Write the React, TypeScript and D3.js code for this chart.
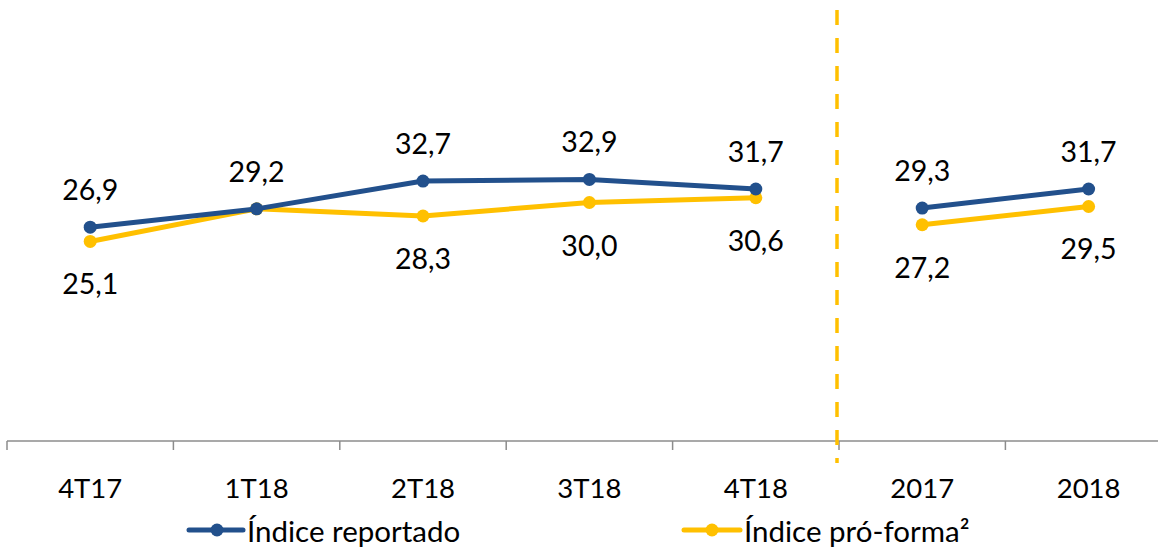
import React from 'react';
import * as d3 from 'd3';

const categories = ['4T17', '1T18', '2T18', '3T18', '4T18', '2017', '2018'];
const reportado = [26.9, 29.2, 32.7, 32.9, 31.7, 29.3, 31.7];
const proForma = [25.1, 29.2, 28.3, 30.0, 30.6, 27.2, 29.5];
// which points get a label (1T18 pro-forma label hides under the other one)
const proFormaShowLabel = [true, false, true, true, true, true, true];
// segments: quarters, then years
const groups = [[0, 1, 2, 3, 4], [5, 6]];

const BLUE = '#22508C';
const YELLOW = '#FFC000';
const FONT = 'Lato, "Open Sans", sans-serif';

export default function App() {
  const width = 1158, height = 547;
  const axisY = 441;
  const band = 166.4;

  const x = d3.scaleBand<string>()
    .domain(categories)
    .range([7, 7 + band * categories.length])
    .padding(0);

  const y = d3.scaleLinear().domain([0, 55]).range([axisY, axisY - 55 * 7.95]);

  const cx = (i: number) => (x(categories[i]) as number) + x.bandwidth() / 2;

  const fmt = (v: number) => v.toFixed(1).replace('.', ',');

  const series = [
    { values: reportado, color: BLUE, dy: -38, show: categories.map(() => true) },
    { values: proForma, color: YELLOW, dy: 42, show: proFormaShowLabel },
  ];

  const divider = (x(categories[5]) as number) - 2;

  return (
    <svg width={width} height={height} style={{ position: 'absolute', left: 0, top: 0, background: '#fff' }}
      fontFamily={FONT}>
      {/* x axis */}
      <line x1={7} x2={width} y1={axisY} y2={axisY} stroke="#8c8c8c" strokeWidth={1.5} />
      {categories.map((c) => (
        <line key={'t' + c} x1={x(c)} x2={x(c)} y1={axisY} y2={axisY + 9} stroke="#8c8c8c" strokeWidth={1.5} />
      ))}
      {categories.map((c, i) => (
        <text key={'l' + c} x={cx(i)} y={487} textAnchor="middle" dominantBaseline="central"
          fontSize={27.5} fill="#000">{c}</text>
      ))}

      {/* divider between quarters and years */}
      <line x1={divider} x2={divider} y1={10} y2={463} stroke={YELLOW} strokeWidth={3.5}
        strokeDasharray="15,13" />

      {/* lines */}
      {series.slice().reverse().map((s, si) => (
        <g key={'s' + si}>
          {groups.map((g, gi) => {
            const path = d3.line<number>().x(i => cx(i)).y(i => y(s.values[i]))(g);
            return <path key={gi} d={path || ''} fill="none" stroke={s.color} strokeWidth={5} strokeLinejoin="round" />;
          })}
          {s.values.map((v, i) => (
            <circle key={i} cx={cx(i)} cy={y(v)} r={6.5} fill={s.color} />
          ))}
        </g>
      ))}

      {/* data labels */}
      {series.map((s, si) => s.values.map((v, i) => s.show[i] ? (
        <text key={si + '-' + i} x={cx(i)} y={y(v) + s.dy} textAnchor="middle" dominantBaseline="central"
          fontSize={28.5} fill="#000">{fmt(v)}</text>
      ) : null))}

      {/* legend */}
      <g transform="translate(189,530)">
        <line x1={0} x2={54} stroke={BLUE} strokeWidth={5} strokeLinecap="round" />
        <circle cx={28} cy={0} r={6.5} fill={BLUE} />
        <text x={58} y={0} dominantBaseline="central" fontSize={29.5} fill="#000">Índice reportado</text>
      </g>
      <g transform="translate(684,530)">
        <line x1={0} x2={56} stroke={YELLOW} strokeWidth={5} strokeLinecap="round" />
        <circle cx={28} cy={0} r={6.5} fill={YELLOW} />
        <text x={60} y={0} dominantBaseline="central" fontSize={29.5} fill="#000">Índice pró-forma²</text>
      </g>
    </svg>
  );
}
